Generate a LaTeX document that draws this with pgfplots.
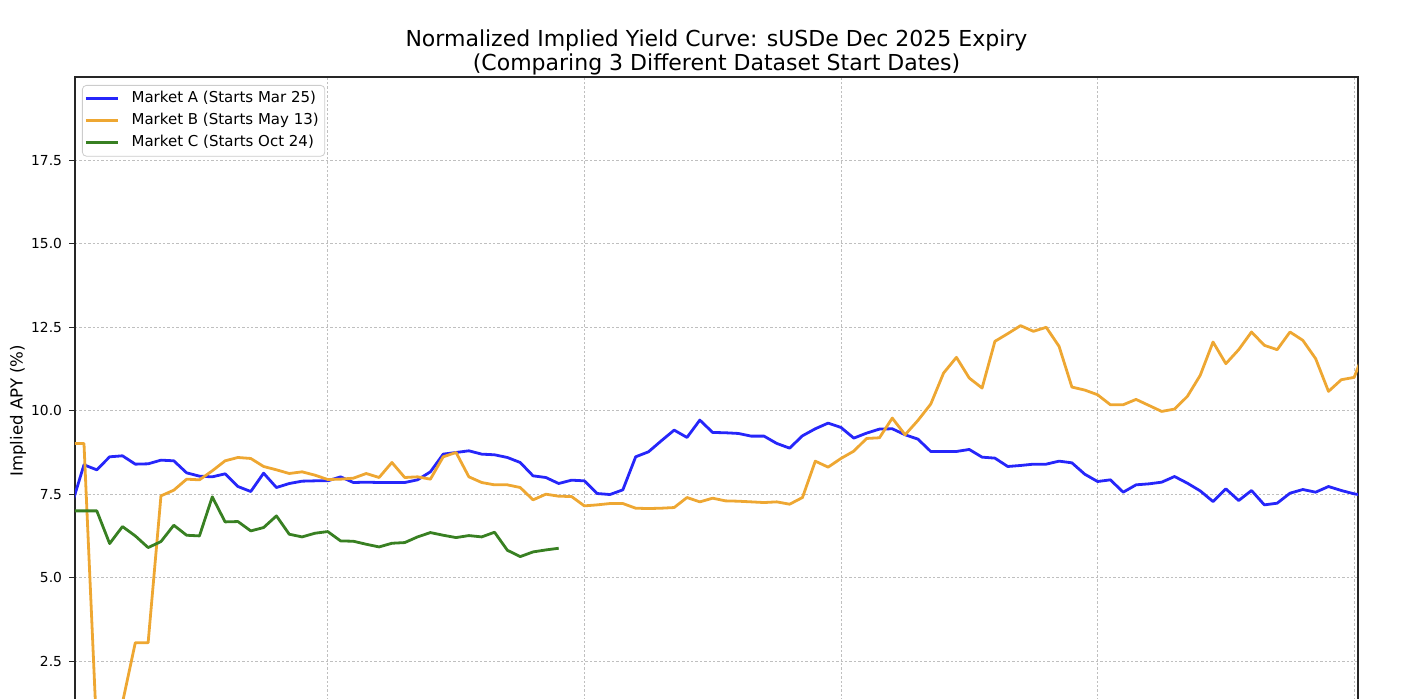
\documentclass[border=0pt]{standalone}
\usepackage{pgfplots}
\pgfplotsset{compat=1.18}
\usepackage{fontspec}
\setmainfont{DejaVu Sans}
\definecolor{mA}{RGB}{38,38,250}
\definecolor{mB}{RGB}{238,167,50}
\definecolor{mC}{RGB}{56,128,34}
\begin{document}
\begin{tikzpicture}
\begin{axis}[
  scale only axis,
  width=641.5pt, height=333.75pt,
  xmin=0.3, xmax=100.3, ymin=0, ymax=20,
  xtick={20,40,60,80,100}, xticklabel=\empty,
  ytick={2.5,5,7.5,10,12.5,15,17.5},
  extra y ticks={0}, extra y tick labels={},
  yticklabel style={/pgf/number format/.cd, fixed, fixed zerofill, precision=1, assume math mode=true},
  tick label style={font=\fontsize{6.9}{8}\selectfont},
  tick align=outside, tick pos=left,
  major tick length=3pt,
  xmajorgrids, ymajorgrids,
  grid style={draw=black!25, line width=0.4pt, dash pattern=on 1.2pt off 1pt},
  axis line style={draw=black!85, line width=0.6pt},
  every tick/.style={draw=black!85, line width=0.5pt},
  title={Normalized Implied Yield Curve: sUSDe Dec 2025 Expiry\\(Comparing 3 Different Dataset Start Dates)},
  title style={align=center, font=\fontsize{11}{12}\selectfont, at={(axis description cs:0.5,1)}, anchor=south, inner sep=0pt, yshift=-5pt},
  ylabel={Implied APY (\%)},
  every axis y label/.style={at={(axis description cs:-0.0444,0.5)}, rotate=90, anchor=center, font=\fontsize{8.3}{10}\selectfont},
  legend cell align=left,
  legend image code/.code={\draw[#1, line width=1.6pt] (0pt,0pt) -- (16pt,0pt);},
  legend style={at={(axis description cs:0,1)}, anchor=north west, xshift=3.5pt, yshift=-4pt,
    draw=black!20, rounded corners=2pt, fill=white, fill opacity=0.8, text opacity=1, draw opacity=1,
    font=\fontsize{7.5}{9}\selectfont, inner xsep=1pt, inner ysep=1.2pt, row sep=0pt,
    nodes={text height=5.6pt, text depth=1.6pt, inner ysep=1.9pt},
    /tikz/every odd column/.append style={column sep=4pt}},
  every axis plot/.append style={line width=1.4pt, line join=round},
]
\coordinate (sw) at (rel axis cs:0,0);
\coordinate (ne) at (rel axis cs:1,1);
\addplot[mA] coordinates {
(0,7.12)(1,8.38)(2,8.23)(3,8.62)(4,8.65)(5,8.40)(6,8.41)(7,8.52)(8,8.50)(9,8.14)
(10,8.04)(11,8.02)(12,8.11)(13,7.73)(14,7.58)(15,8.13)(16,7.70)(17,7.82)(18,7.89)(19,7.90)
(20,7.90)(21,8.02)(22,7.85)(23,7.86)(24,7.85)(25,7.85)(26,7.85)(27,7.93)(28,8.17)(29,8.70)
(30,8.75)(31,8.80)(32,8.70)(33,8.68)(34,8.60)(35,8.45)(36,8.05)(37,8.00)(38,7.82)(39,7.92)
(40,7.90)(41,7.52)(42,7.49)(43,7.63)(44,8.62)(45,8.77)(46,9.10)(47,9.42)(48,9.20)(49,9.72)
(50,9.35)(51,9.34)(52,9.32)(53,9.24)(54,9.24)(55,9.02)(56,8.88)(57,9.25)(58,9.46)(59,9.63)
(60,9.50)(61,9.18)(62,9.33)(63,9.45)(64,9.46)(65,9.28)(66,9.15)(67,8.78)(68,8.78)(69,8.78)
(70,8.84)(71,8.61)(72,8.58)(73,8.33)(74,8.36)(75,8.40)(76,8.40)(77,8.49)(78,8.44)(79,8.10)
(80,7.88)(81,7.93)(82,7.56)(83,7.78)(84,7.81)(85,7.86)(86,8.03)(87,7.83)(88,7.60)(89,7.28)
(90,7.66)(91,7.31)(92,7.61)(93,7.18)(94,7.23)(95,7.53)(96,7.64)(97,7.56)(98,7.73)(99,7.61)
(100,7.51)(101,7.45)
};
\addlegendentry{Market A (Starts Mar 25)}
\addplot[mB] coordinates {
(0,9.02)(1,9.02)(2,0.3)(3,0.2)(4,1.25)(5,3.05)(6,3.05)(7,7.45)(8,7.62)(9,7.95)
(10,7.93)(11,8.20)(12,8.50)(13,8.60)(14,8.57)(15,8.33)(16,8.23)(17,8.12)(18,8.17)(19,8.07)
(20,7.94)(21,7.95)(22,7.98)(23,8.12)(24,8.00)(25,8.45)(26,8.00)(27,8.02)(28,7.95)(29,8.62)
(30,8.75)(31,8.02)(32,7.85)(33,7.78)(34,7.78)(35,7.70)(36,7.33)(37,7.50)(38,7.44)(39,7.43)
(40,7.15)(41,7.18)(42,7.22)(43,7.22)(44,7.08)(45,7.07)(46,7.08)(47,7.10)(48,7.40)(49,7.27)
(50,7.38)(51,7.30)(52,7.29)(53,7.27)(54,7.25)(55,7.27)(56,7.20)(57,7.40)(58,8.49)(59,8.31)
(60,8.57)(61,8.79)(62,9.17)(63,9.19)(64,9.78)(65,9.28)(66,9.71)(67,10.20)(68,11.13)(69,11.60)
(70,10.98)(71,10.68)(72,12.08)(73,12.31)(74,12.55)(75,12.38)(76,12.50)(77,11.93)(78,10.71)(79,10.62)
(80,10.48)(81,10.18)(82,10.18)(83,10.34)(84,10.16)(85,9.98)(86,10.05)(87,10.43)(88,11.06)(89,12.06)
(90,11.41)(91,11.83)(92,12.36)(93,11.96)(94,11.83)(95,12.36)(96,12.11)(97,11.56)(98,10.58)(99,10.93)
(100,11.00)(101,12.0)
};
\addlegendentry{Market B (Starts May 13)}
\addplot[mC] coordinates {
(0,7.0)(1,7.0)(2,7.0)(3,6.02)(4,6.53)(5,6.25)(6,5.90)(7,6.08)(8,6.57)(9,6.27)
(10,6.25)(11,7.42)(12,6.67)(13,6.68)(14,6.40)(15,6.50)(16,6.85)(17,6.30)(18,6.22)(19,6.33)
(20,6.38)(21,6.10)(22,6.09)(23,6.00)(24,5.92)(25,6.03)(26,6.05)(27,6.22)(28,6.35)(29,6.27)
(30,6.20)(31,6.26)(32,6.22)(33,6.36)(34,5.82)(35,5.63)(36,5.77)(37,5.83)(38,5.88)
};
\addlegendentry{Market C (Starts Oct 24)}
\end{axis}
\pgfresetboundingbox
\path[use as bounding box] ([xshift=-37.5pt,yshift=23.25pt]sw) rectangle ([xshift=34pt,yshift=38.5pt]ne);
\end{tikzpicture}
\end{document}
